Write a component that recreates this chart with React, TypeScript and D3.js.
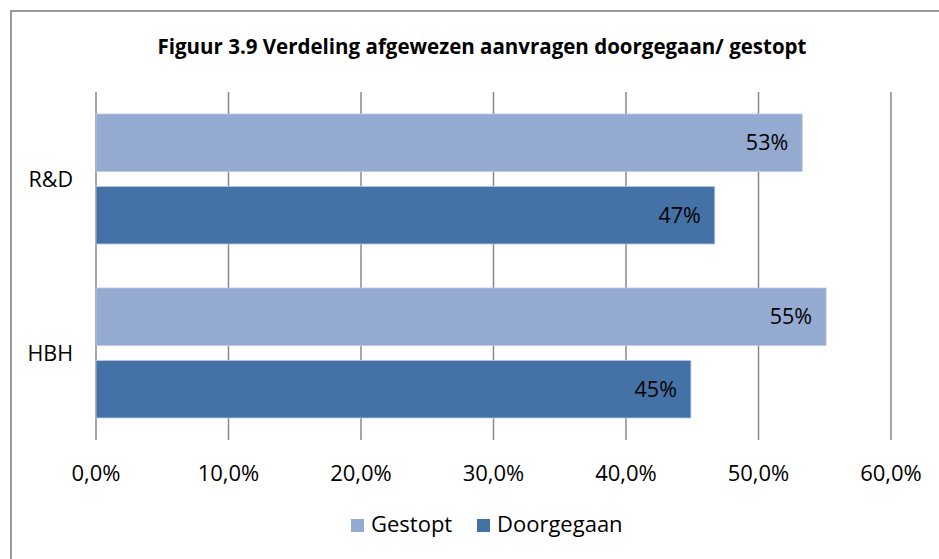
import React, { useRef, useEffect } from "react";
import * as d3 from "d3";

const title = "Figuur 3.9 Verdeling afgewezen aanvragen doorgegaan/ gestopt";
const categories = ["R&D", "HBH"];
const seriesNames = ["Gestopt", "Doorgegaan"];
const gestopt = [53.3, 55.1];
const doorgegaan = [46.7, 44.9];
const xTicks = [0, 10, 20, 30, 40, 50, 60];
const colors = ["#95AAD1", "#4472A7"];

const W = 939;
const H = 559;
const margin = { left: 96, right: 48, top: 92, bottom: 119 };
const font = "'Open Sans', sans-serif";

const App = () => {
  const svgRef = useRef<SVGSVGElement>(null);

  useEffect(() => {
    const svg = d3.select(svgRef.current);
    svgRef.current!.querySelectorAll("*").forEach((n) => n.remove());

    // frame (only top and left edges visible in the picture)
    svg.append("line")
      .attr("x1", 10).attr("x2", W).attr("y1", 11).attr("y2", 11)
      .attr("stroke", "#999").attr("stroke-width", 2);
    svg.append("line")
      .attr("x1", 11).attr("x2", 11).attr("y1", 10).attr("y2", H)
      .attr("stroke", "#999").attr("stroke-width", 2);

    svg.append("text")
      .attr("x", 482).attr("y", 54)
      .attr("text-anchor", "middle")
      .attr("font-family", font).attr("font-weight", "bold")
      .attr("font-size", 20.5)
      .text(title);

    const x = d3.scaleLinear()
      .domain([0, 60])
      .range([margin.left, W - margin.right]);

    const y = d3.scaleBand()
      .domain(categories)
      .range([margin.top, H - margin.bottom])
      .paddingInner(0.253)
      .paddingOuter(0.1265);

    const ySub = d3.scaleBand()
      .domain(seriesNames)
      .range([0, y.bandwidth()])
      .paddingInner(0.207)
      .paddingOuter(0);

    const g = svg.append("g");

    // gridlines
    g.selectAll(".grid")
      .data(xTicks)
      .join("line")
      .attr("x1", (d) => x(d)).attr("x2", (d) => x(d))
      .attr("y1", margin.top).attr("y2", H - margin.bottom)
      .attr("stroke", "#888").attr("stroke-width", 1.5);

    // tick labels
    g.selectAll(".tick")
      .data(xTicks)
      .join("text")
      .attr("x", (d) => x(d)).attr("y", 481)
      .attr("text-anchor", "middle")
      .attr("font-family", font).attr("font-size", 22)
      .text((d) => d.toFixed(1).replace(".", ",") + "%");

    // category labels
    g.selectAll(".cat")
      .data(categories)
      .join("text")
      .attr("x", 73)
      .attr("y", (d) => y(d)! + y.bandwidth() / 2)
      .attr("dy", "0.35em")
      .attr("text-anchor", "end")
      .attr("font-family", font).attr("font-size", 21.5)
      .text((d) => d);

    const seriesData = [gestopt, doorgegaan];
    seriesNames.forEach((s, si) => {
      const rows = categories.map((c, ci) => ({ c, v: seriesData[si][ci] }));
      g.selectAll(".bar" + si)
        .data(rows)
        .join("rect")
        .attr("x", x(0))
        .attr("y", (d) => y(d.c)! + ySub(s)!)
        .attr("width", (d) => x(d.v) - x(0))
        .attr("height", ySub.bandwidth())
        .attr("fill", colors[si])
        .attr("stroke", "#B9C8E3").attr("stroke-width", 0.8);

      g.selectAll(".lab" + si)
        .data(rows)
        .join("text")
        .attr("x", (d) => x(d.v) - 14)
        .attr("y", (d) => y(d.c)! + ySub(s)! + ySub.bandwidth() / 2)
        .attr("dy", "0.35em")
        .attr("text-anchor", "end")
        .attr("font-family", font).attr("font-size", 21.5)
        .text((d) => Math.round(d.v) + "%");
    });

    // legend
    const legend = svg.append("g");
    const legendX = [351, 477];
    seriesNames.forEach((s, i) => {
      legend.append("rect")
        .attr("x", legendX[i]).attr("y", 519)
        .attr("width", 13).attr("height", 13)
        .attr("fill", colors[i]);
      legend.append("text")
        .attr("x", legendX[i] + 20).attr("y", 532)
        .attr("font-family", font).attr("font-size", 22)
        .text(s);
    });
  }, []);

  return (
    <div>
      <svg ref={svgRef} width={W} height={H} style={{ display: "block", position: "absolute", left: 0, top: 0 }} />
    </div>
  );
};

export default App;
